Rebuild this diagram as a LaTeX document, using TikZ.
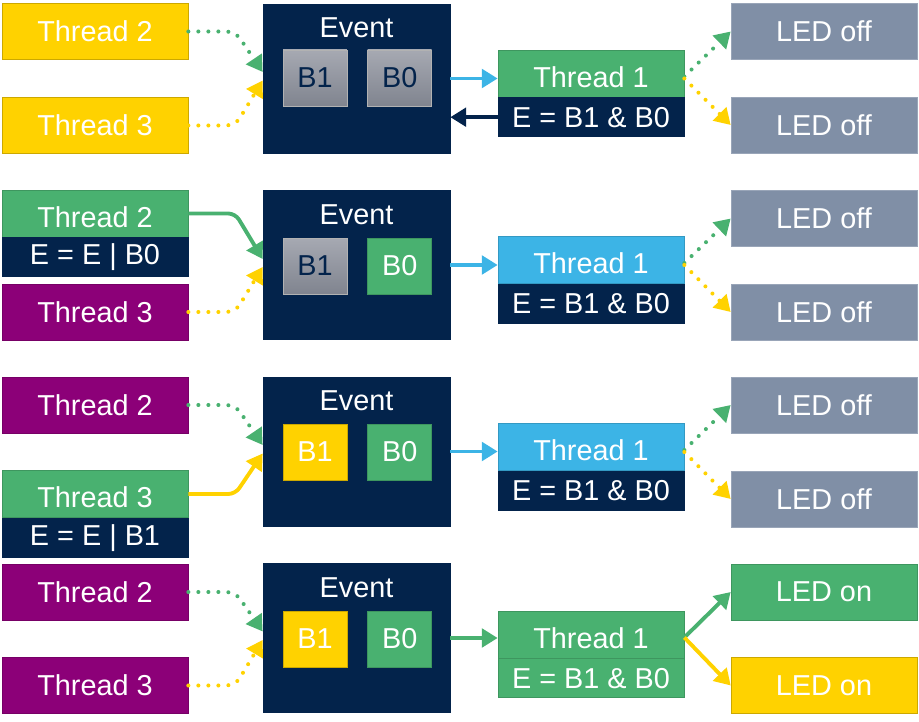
\documentclass[tikz,border=0pt]{standalone}
\usepackage{fontspec}
\setmainfont{Liberation Sans}
\usepackage{tikz}
\usetikzlibrary{shapes, arrows.meta, positioning}
\definecolor{stnavy}{HTML}{03234B}
\definecolor{stblue}{HTML}{3CB4E6}
\definecolor{styellow}{HTML}{FFD200}
\definecolor{stpink}{HTML}{8C0078}
\definecolor{stgreen}{HTML}{49B170}
\definecolor{stgray}{HTML}{808FA6}
\definecolor{bittop}{HTML}{A6A9B2}
\definecolor{bitbot}{HTML}{80848F}
\tikzstyle{block} = [rectangle, inner sep=0pt, text=white, font=\fontsize{16.4}{18}\selectfont, minimum width=3.72cm, minimum height=1.12cm, line width=0.4pt]
\tikzstyle{yellowblock} = [block, fill=styellow, draw=styellow!80!black]
\tikzstyle{pinkblock} = [block, fill=stpink, draw=stpink!85!black]
\tikzstyle{greenblock} = [block, fill=stgreen, draw=stgreen!85!black]
\tikzstyle{blueblock} = [block, fill=stblue, draw=stblue!85!black]
\tikzstyle{grayblock} = [block, fill=stgray, draw=stgray!80!white]
\tikzstyle{topblock} = [minimum height=0.94cm, text height=0.56cm]
\tikzstyle{opblock} = [block, minimum height=0.78cm, fill=stnavy, draw=stnavy]
\tikzstyle{event} = [block, fill=stnavy, draw=stnavy, minimum width=3.74cm, minimum height=2.98cm]
\tikzstyle{eventtitle} = [inner sep=0pt, text=white, font=\fontsize{16.4}{18}\selectfont]
\tikzstyle{bit} = [block, minimum width=1.28cm, minimum height=1.12cm]
\tikzstyle{bitoff} = [bit, top color=bittop, bottom color=bitbot, text=stnavy, draw=gray!60]
\tikzstyle{dotline} = [line width=2.3pt, line cap=round, dash pattern=on 0pt off 5.7pt, rounded corners=5pt, -{Triangle[length=9pt, width=10.5pt]}]
\tikzstyle{solidline} = [line width=2.2pt, rounded corners=4pt, -{Triangle[length=9pt, width=10.5pt]}]

\begin{document}
\begin{tikzpicture}[x=0.02cm, y=-0.02cm]
	\useasboundingbox (0,0) rectangle (919,722);
	% row 1: nothing set
	\node[yellowblock] (t2a) at (95,31.5) {Thread 2};
	\node[yellowblock] (t3a) at (95,125.5) {Thread 3};
	\node[event] (eva) at (356.5,78.5) {};
	\node[eventtitle, below=0.28cm] at (eva.north) {Event};
	\node[bitoff] (b1a) at (315,78) {B1};
	\node[bitoff, right=0.4cm of b1a] (b0a) {B0};
	\node[greenblock, topblock] (t1a) at (591,73.5) {Thread 1};
	\node[opblock, below=0pt of t1a] (opa) {E = B1 \& B0};
	\node[grayblock] (led1a) at (824,31.5) {LED off};
	\node[grayblock] (led2a) at (824,125) {LED off};
	\draw[dotline, stgreen] (t2a.east) -- ++(47,0) -- ([yshift=0.13cm]eva.west);
	\draw[dotline, styellow] (t3a.east) -- ++(47,0) -- ([yshift=-0.04cm]eva.west);
	\draw[solidline, stblue] (eva.east) -- (eva.east -| t1a.west);
	\draw[solidline, stnavy] (opa.west) -- (opa.west -| eva.east);
	\draw[dotline, stgreen] ([yshift=-0.06cm]t1a.east) -- (led1a.west);
	\draw[dotline, styellow] ([yshift=-0.1cm]t1a.east) -- (led2a.west);
	% row 2: thread 2 sets B0
	\begin{scope}[shift={(0,187)}]
		\node[greenblock, topblock] (t2b) at (95,26.5) {Thread 2};
		\node[opblock, below=0pt of t2b] (opt2b) {E = E | B0};
		\node[pinkblock] (t3b) at (95,125) {Thread 3};
		\node[event] (evb) at (356.5,78) {};
		\node[eventtitle, below=0.28cm] at (evb.north) {Event};
		\node[bitoff] (b1b) at (315,79) {B1};
		\node[bit, fill=stgreen, draw=stgreen!85!black, right=0.4cm of b1b] (b0b) {B0};
		\node[blueblock, topblock] (t1b) at (591,73) {Thread 1};
		\node[opblock, below=0pt of t1b] (opb) {E = B1 \& B0};
		\node[grayblock] (led1b) at (824,31.5) {LED off};
		\node[grayblock] (led2b) at (824,125) {LED off};
		\draw[solidline, stgreen] (t2b.east) -- ++(47,0) -- ([yshift=0.12cm]evb.west);
		\draw[dotline, styellow] (t3b.east) -- ++(47,0) -- ([yshift=-0.04cm]evb.west);
		\draw[solidline, stblue] (evb.east) -- (evb.east -| t1b.west);
		\draw[dotline, stgreen] ([yshift=-0.06cm]t1b.east) -- (led1b.west);
		\draw[dotline, styellow] ([yshift=-0.1cm]t1b.east) -- (led2b.west);
	\end{scope}
	% row 3: thread 3 sets B1
	\begin{scope}[shift={(0,373)}]
		\node[pinkblock] (t2c) at (95,32) {Thread 2};
		\node[greenblock, topblock] (t3c) at (95,121) {Thread 3};
		\node[opblock, below=0pt of t3c] (opt3c) {E = E | B1};
		\node[event] (evc) at (356.5,78.5) {};
		\node[eventtitle, below=0.28cm] at (evc.north) {Event};
		\node[bit, fill=styellow, draw=styellow!80!black] (b1c) at (315,79) {B1};
		\node[bit, fill=stgreen, draw=stgreen!85!black, right=0.4cm of b1c] (b0c) {B0};
		\node[blueblock, topblock] (t1c) at (591,74) {Thread 1};
		\node[opblock, below=0pt of t1c] (opc) {E = B1 \& B0};
		\node[grayblock] (led1c) at (824,32) {LED off};
		\node[grayblock] (led2c) at (824,126) {LED off};
		\draw[dotline, stgreen] (t2c.east) -- ++(47,0) -- ([yshift=0.13cm]evc.west);
		\draw[solidline, styellow] (t3c.east) -- ++(47,0) -- ([yshift=-0.04cm]evc.west);
		\draw[solidline, stblue] (evc.east) -- (evc.east -| t1c.west);
		\draw[dotline, stgreen] ([yshift=-0.06cm]t1c.east) -- (led1c.west);
		\draw[dotline, styellow] ([yshift=-0.1cm]t1c.east) -- (led2c.west);
	\end{scope}
	% row 4: both bits set, thread 1 runs
	\begin{scope}[shift={(0,560)}]
		\node[pinkblock] (t2d) at (95,32) {Thread 2};
		\node[pinkblock] (t3d) at (95,125.5) {Thread 3};
		\node[event] (evd) at (356.5,78) {};
		\node[eventtitle, below=0.28cm] at (evd.north) {Event};
		\node[bit, fill=styellow, draw=styellow!80!black] (b1d) at (315,79) {B1};
		\node[bit, fill=stgreen, draw=stgreen!85!black, right=0.4cm of b1d] (b0d) {B0};
		\node[greenblock, topblock] (t1d) at (591,74.5) {Thread 1};
		\node[greenblock, minimum height=0.78cm, below=0pt of t1d] (opd) {E = B1 \& B0};
		\node[greenblock] (led1d) at (824,32) {LED on};
		\node[yellowblock] (led2d) at (824,125.5) {LED on};
		\draw[dotline, stgreen] (t2d.east) -- ++(47,0) -- ([yshift=0.13cm]evd.west);
		\draw[dotline, styellow] (t3d.east) -- ++(47,0) -- ([yshift=-0.04cm]evd.west);
		\draw[solidline, stgreen] (evd.east) -- (evd.east -| t1d.west);
		\draw[solidline, stgreen] ([yshift=-0.06cm]t1d.east) -- (led1d.west);
		\draw[solidline, styellow] ([yshift=-0.06cm]t1d.east) -- (led2d.west);
	\end{scope}
\end{tikzpicture}
\end{document}
